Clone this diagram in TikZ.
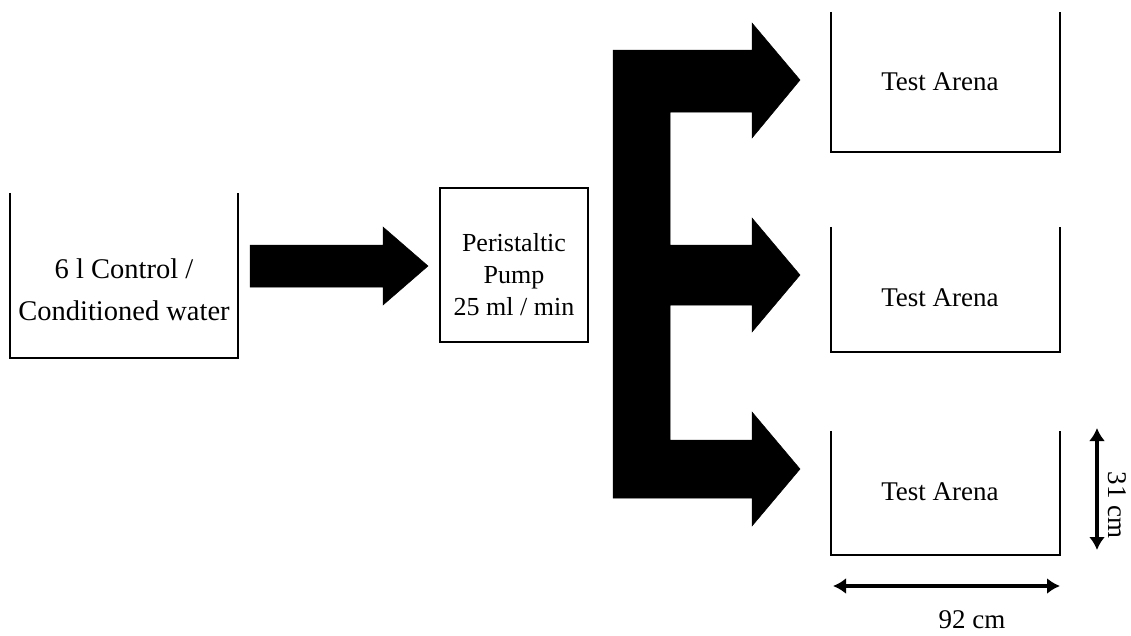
\documentclass[tikz,border=0pt]{standalone}
\usepackage{fontspec}
\setmainfont{Liberation Serif}
\usetikzlibrary{arrows.meta}
\begin{document}
\begin{tikzpicture}[x=1pt,y=-1pt,
  lbl/.style={font=\fontsize{26}{32}\selectfont, inner sep=0pt, align=center},
  arena/.style={font=\fontsize{27}{32}\selectfont, inner sep=0pt},
  boxline/.style={line width=1.9pt},
  block/.style={fill=black, draw=black, line width=0.5pt, line join=miter},
  dim/.style={line width=3.6pt, {Latex[length=13pt,width=16pt]}-{Latex[length=13pt,width=16pt]}}]
\useasboundingbox (0,0) rectangle (1131,635);

% source container (open top)
\node[inner sep=0pt, minimum width=228pt, minimum height=165pt] (src) at (124,275.5) {};
\draw[boxline] (src.north west) -- (src.south west) -- (src.south east) -- (src.north east);
\node[lbl, font=\fontsize{28.5}{42}\selectfont] (srct) at (124,290) {6 l Control /\\Conditioned water};

% pump box
\node[draw, boxline, inner sep=0pt, minimum width=148pt, minimum height=154pt] (pump) at (514,265) {};
\node[lbl] (pumpt) at (514,275) {Peristaltic\\Pump\\25 ml / min};

% arrow source -> pump
\fill[block] (250,245) -- (383,245) -- (383,227) -- (428,266) -- (383,305) -- (383,287) -- (250,287) -- cycle;

% E-shaped distributor
\fill[block] (613,50) -- (752,50) -- (752,23) -- (800,80) -- (752,138) -- (752,112)
  -- (670,112) -- (670,245) -- (752,245) -- (752,218) -- (800,275) -- (752,332) -- (752,305)
  -- (670,305) -- (670,440) -- (752,440) -- (752,412) -- (800,469) -- (752,526) -- (752,498)
  -- (613,498) -- cycle;

% test arenas (open top)
\node[inner sep=0pt, minimum width=229pt, minimum height=140pt] (a1) at (945.5,82) {};
\node[inner sep=0pt, minimum width=229pt, minimum height=125pt] (a2) at (945.5,289.5) {};
\node[inner sep=0pt, minimum width=229pt, minimum height=124pt] (a3) at (945.5,493) {};
\foreach \a in {a1,a2,a3}
  \draw[boxline] (\a.north west) -- (\a.south west) -- (\a.south east) -- (\a.north east);
\node[arena] (t1) at (940,82) {Test Arena};
\node[arena] (t2) at (940,298) {Test Arena};
\node[arena] (t3) at (940,492) {Test Arena};

% dimensions
\coordinate (v1) at (1097,428);
\coordinate (v2) at (1097,550);
\draw[dim] (v1) -- (v2);
\node[arena, rotate=-90] (vt) at (1117,505) {31 cm};
\coordinate (h1) at (833,586);
\coordinate (h2) at (1060,586);
\draw[dim] (h1) -- (h2);
\node[arena] (ht) at (972,620) {92 cm};
\end{tikzpicture}
\end{document}
